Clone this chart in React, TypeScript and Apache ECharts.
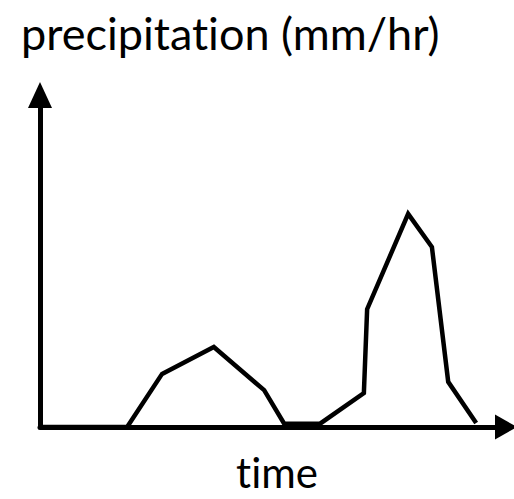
import React, { useEffect, useRef } from "react";
import * as echarts from "echarts";

// Time (arbitrary units, 0..100 along the axis) and precipitation (arbitrary units, 0..100)
const timeValues = [0, 18.7, 26.2, 37.3, 48.1, 52.4, 60.1, 69.5, 70.2, 79.0, 84.1, 87.6, 93.6];
const precipValues = [0, 0, 16.0, 24.1, 11.1, 1.0, 1.0, 10.2, 35.5, 64.2, 54.2, 13.6, 1.2];
const yAxisTitle = "precipitation (mm/hr)";
const xAxisTitle = "time";

export default function App() {
  const ref = useRef<HTMLDivElement>(null);
  useEffect(() => {
    const chart = echarts.init(ref.current!, null, { renderer: "svg" });
    chart.setOption({
      animation: false,
      backgroundColor: "#fff",
      title: {
        text: yAxisTitle,
        left: 21,
        top: 10,
        padding: 0,
        textStyle: { fontFamily: "Lato", fontSize: 45, fontWeight: "normal", color: "#000" },
      },
      grid: { left: 40, right: 8, top: 95, bottom: 72, outerBoundsMode: "none", containLabel: false },
      xAxis: {
        type: "value",
        min: 0,
        max: 100,
        name: xAxisTitle,
        nameLocation: "middle",
        nameGap: 27,
        nameTextStyle: { fontFamily: "Lato", fontSize: 42, lineHeight: 36, color: "#000", padding: [0, 0, 0, 8] },
        axisLine: {
          show: true,
          onZero: false,
          symbol: ["none", "triangle"],
          symbolSize: [25, 22],
          lineStyle: { color: "#000", width: 5 },
        },
        axisTick: { show: false },
        axisLabel: { show: false },
        splitLine: { show: false },
      },
      yAxis: {
        type: "value",
        min: 0,
        max: 100,
        axisLine: {
          show: true,
          onZero: false,
          symbol: ["none", "triangle"],
          symbolSize: [24, 26],
          lineStyle: { color: "#000", width: 5 },
        },
        axisTick: { show: false },
        axisLabel: { show: false },
        splitLine: { show: false },
      },
      series: [
        {
          type: "line",
          data: timeValues.map((t, i) => [t, precipValues[i]]),
          symbol: "none",
          clip: false,
          lineStyle: { color: "#000", width: 4.5, join: "miter" },
        },
      ],
    });
    return () => chart.dispose();
  }, []);
  return (
    <>
      <style>{"svg text { font-variant-ligatures: none; font-feature-settings: 'liga' 0, 'clig' 0; }"}</style>
      <div
        ref={ref}
        style={{ position: "fixed", left: 0, top: 0, width: 514, height: 499, background: "#fff" }}
      />
    </>
  );
}
